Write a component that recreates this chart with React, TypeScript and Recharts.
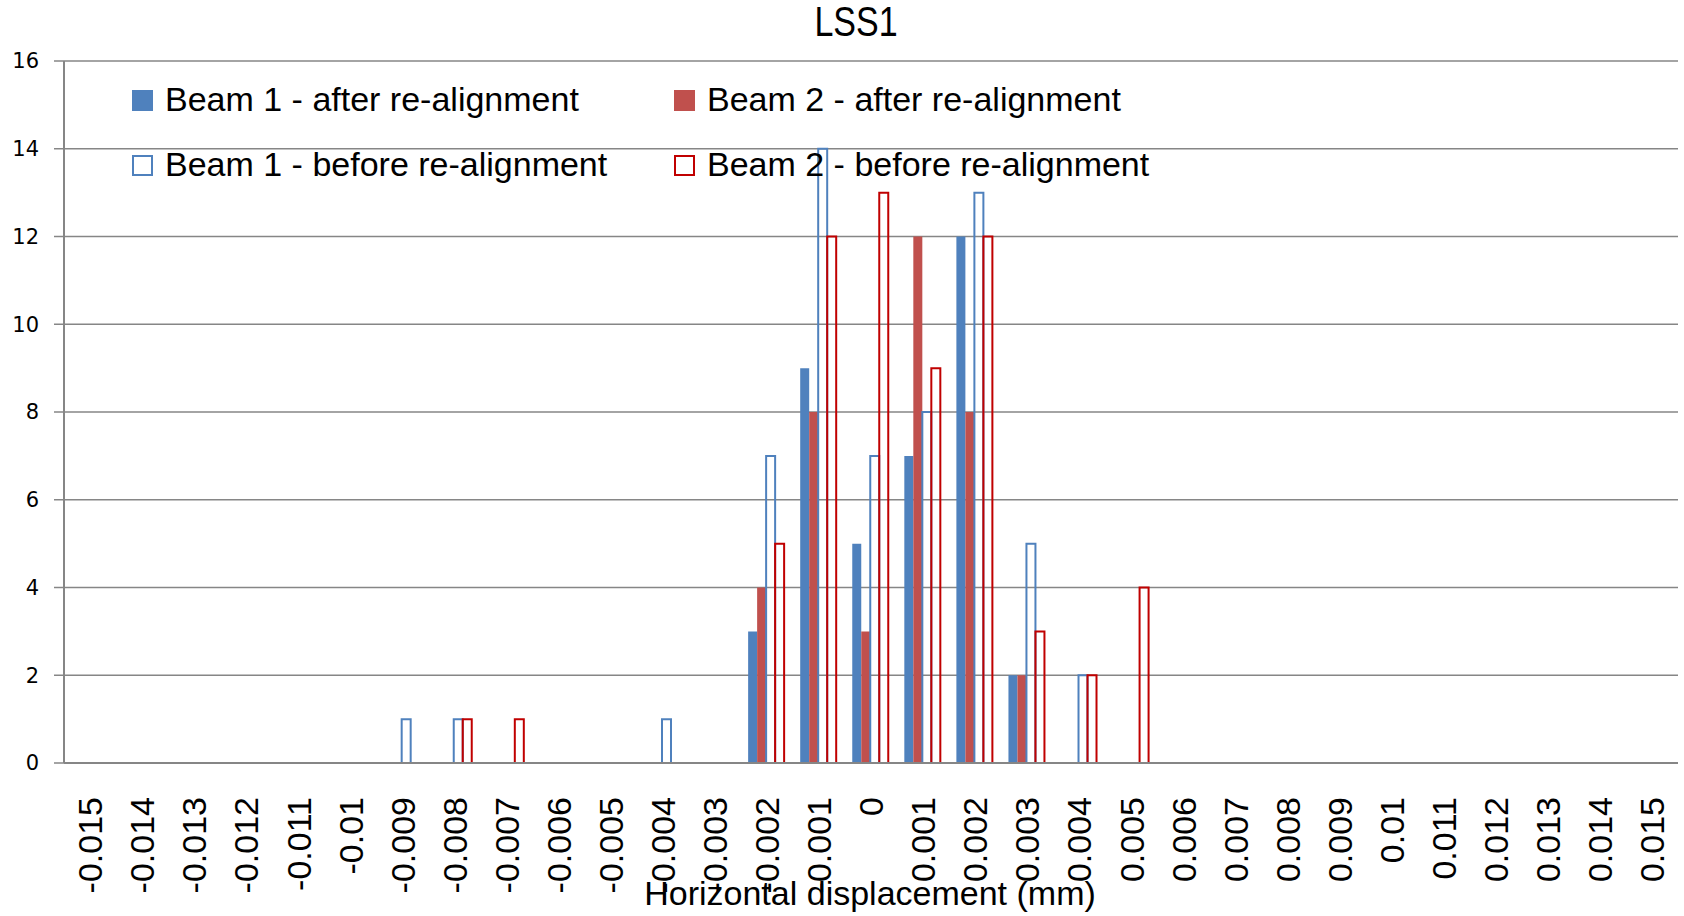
import {FC} from "react";
import {BarChart, Bar, XAxis, YAxis, CartesianGrid, Legend} from "recharts";

// tick labels of the horizontal displacement bins (mm)
const categories = [
  "-0.015", "-0.014", "-0.013", "-0.012", "-0.011", "-0.01", "-0.009", "-0.008",
  "-0.007", "-0.006", "-0.005", "-0.004", "-0.003", "-0.002", "-0.001", "0",
  "0.001", "0.002", "0.003", "0.004", "0.005", "0.006", "0.007", "0.008",
  "0.009", "0.01", "0.011", "0.012", "0.013", "0.014", "0.015",
];

const beam1After = [0, 0, 0, 0, 0, 0, 0, 0, 0, 0, 0, 0, 0, 3, 9, 5, 7, 12, 2, 0, 0, 0, 0, 0, 0, 0, 0, 0, 0, 0, 0];
const beam2After = [0, 0, 0, 0, 0, 0, 0, 0, 0, 0, 0, 0, 0, 4, 8, 3, 12, 8, 2, 0, 0, 0, 0, 0, 0, 0, 0, 0, 0, 0, 0];
const beam1Before = [0, 0, 0, 0, 0, 0, 1, 1, 0, 0, 0, 1, 0, 7, 14, 7, 8, 13, 5, 2, 0, 0, 0, 0, 0, 0, 0, 0, 0, 0, 0];
const beam2Before = [0, 0, 0, 0, 0, 0, 0, 1, 1, 0, 0, 0, 0, 5, 12, 13, 9, 12, 3, 2, 4, 0, 0, 0, 0, 0, 0, 0, 0, 0, 0];

const yTicks = [0, 2, 4, 6, 8, 10, 12, 14, 16];

const series = [
  {key: "b1a", name: "Beam 1 - after re-alignment", color: "#4F81BD", filled: true},
  {key: "b2a", name: "Beam 2 - after re-alignment", color: "#C0504D", filled: true},
  {key: "b1b", name: "Beam 1 - before re-alignment", color: "#4F81BD", filled: false},
  {key: "b2b", name: "Beam 2 - before re-alignment", color: "#C00000", filled: false},
];

const data = categories.map((c, i) => ({
  name: c,
  b1a: beam1After[i],
  b2a: beam2After[i],
  b1b: beam1Before[i],
  b2b: beam2Before[i],
}));

const FONT = "'Liberation Sans', Arial, sans-serif";
const GRID = "#868686";

const XTick = (props: any) => {
  const {x, y, payload} = props;
  return (
    <text x={x} y={y} transform={`rotate(-90 ${x} ${y})`} textAnchor="end" dy="0.36em"
          fontFamily={FONT} fontSize={34} fill="#000">
      {payload.value}
    </text>
  );
};

// legend laid out 2x2 like the original, in the series order
const LegendContent = (props: any) => {
  const {payload = []} = props;
  const shown = series.filter((s) => payload.some((p: any) => p.dataKey === s.key));
  return (
    <div style={{display: "flex", flexWrap: "wrap", width: 1084}}>
      {shown.map((s) => (
        <div key={s.key} style={{width: 542, height: 65, display: "flex", alignItems: "center"}}>
          <div style={{
            width: 21, height: 21, boxSizing: "border-box", marginTop: 3,
            background: s.filled ? s.color : "#fff",
            border: s.filled ? "none" : `2px solid ${s.color}`,
          }}/>
          <span style={{marginLeft: 12, fontFamily: FONT, fontSize: 34, lineHeight: 1, color: "#000"}}>
            {s.name}
          </span>
        </div>
      ))}
    </div>
  );
};

const App: FC = () => {
  return (
    <div style={{position: "absolute", left: 0, top: 0, width: 1684, height: 916, background: "#fff"}}>
      <div style={{
        position: "absolute", left: 756, top: 1, width: 200, textAlign: "center",
        fontFamily: FONT, fontSize: 42, lineHeight: 1, transform: "scaleX(0.81)", color: "#000",
      }}>
        LSS1
      </div>
      <BarChart width={1684} height={916} data={data}
                margin={{top: 61, right: 6, bottom: 43, left: 0}}
                barCategoryGap="14%" barGap={0}>
        <CartesianGrid vertical={false} stroke={GRID} strokeWidth={1.5}/>
        <XAxis dataKey="name" height={110} interval={0} tickLine={false} tickSize={0} tickMargin={34}
               axisLine={{stroke: GRID, strokeWidth: 2}} tick={<XTick/>}/>
        <YAxis width={64} domain={[0, 16]} ticks={yTicks} interval={0} tickSize={10} tickMargin={15}
               axisLine={{stroke: GRID, strokeWidth: 2}} tickLine={{stroke: GRID, strokeWidth: 1.5}}
               tick={{fontFamily: "'DejaVu Sans', sans-serif", fontSize: 21, fill: "#000"}}/>
        <Legend layout="horizontal" verticalAlign="middle" align="center"
                wrapperStyle={{top: 66, left: 132, width: 1084}} content={<LegendContent/>}/>
        {series.map((s) => (
          <Bar key={s.key} dataKey={s.key} name={s.name} isAnimationActive={false}
               fill={s.filled ? s.color : "none"}
               stroke={s.filled ? "none" : s.color}
               strokeWidth={s.filled ? 0 : 2}/>
        ))}
      </BarChart>
      <div style={{
        position: "absolute", left: 570, top: 876, width: 600, textAlign: "center",
        fontFamily: FONT, fontSize: 34, lineHeight: 1, color: "#000",
      }}>
        Horizontal displacement (mm)
      </div>
    </div>
  );
};

export default App;
